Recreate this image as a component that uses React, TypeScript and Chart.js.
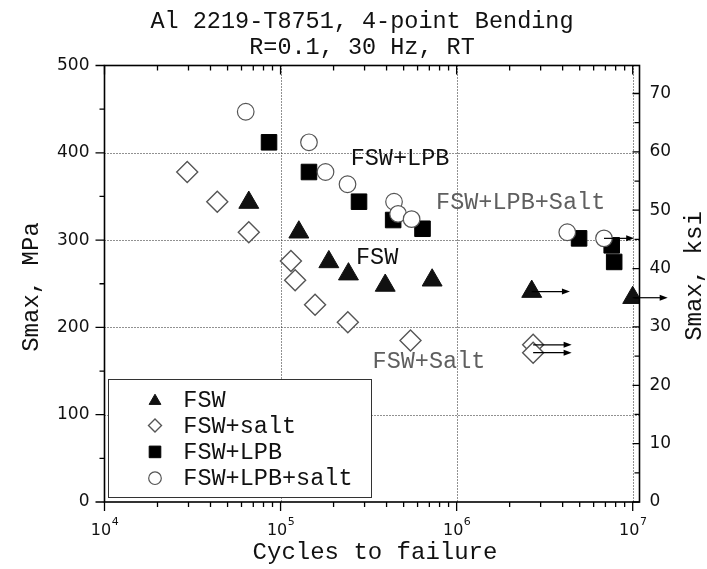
import React, { useEffect, useRef } from 'react';
import { Chart, registerables } from 'chart.js';
import { drawPoint } from 'chart.js/helpers';

Chart.register(...registerables);

// Fatigue results: cycles to failure vs. maximum stress (MPa)
const fswCycles = [66000, 127000, 188000, 243000, 393000, 726000, 2670000, 10000000];
const fswStress = [343, 309, 275, 261, 248, 254, 241, 234];

const fswSaltCycles = [29500, 43700, 66000, 114500, 121000, 157000, 241000, 547000, 2720000, 2720000];
const fswSaltStress = [378, 344, 309, 276, 254, 226, 206, 185, 180, 171];

const lpbCycles = [86000, 145000, 279000, 436000, 640000, 4960000, 7600000, 7850000];
const lpbStress = [412, 378, 344, 323, 313, 302, 294, 275];

const lpbSaltCycles = [63400, 145000, 180000, 240000, 441000, 465000, 555000, 4250000, 6870000];
const lpbSaltStress = [447, 412, 378, 364, 344, 330, 324, 309, 302];

// Run-outs: specimen cycles, arrow tip cycles, stress
const runoutStart = [2670000, 10000000, 2720000, 2720000, 6870000];
const runoutEnd = [4400000, 15800000, 4500000, 4500000, 10200000];
const runoutStress = [241, 234, 180, 171, 302];

const seriesNames = ['FSW', 'FSW+salt', 'FSW+LPB', 'FSW+LPB+salt'];
const titleLines = ['Al 2219-T8751, 4-point Bending', 'R=0.1, 30 Hz, RT'];
const xTitle = 'Cycles to failure';
const yTitle = 'Smax, MPa';
const y2Title = 'Smax, ksi';
const xDecades = [4, 5, 6, 7];
const gridDecades = [5, 6, 7];
const gridStress = [100, 200, 300, 400];

// In-plot group labels
const noteLabels = ['FSW+LPB', 'FSW+LPB+Salt', 'FSW', 'FSW+Salt'];
const noteCycles = [250000, 764000, 268000, 333000];
const noteStress = [386, 336, 273, 153];
const noteGrey = [false, true, false, true];

const MONO = '"Liberation Mono", "DejaVu Sans Mono", monospace';
const SANS = '"DejaVu Sans", "Liberation Sans", sans-serif';

const toPoints = (xs: number[], ys: number[]) => xs.map((x, i) => ({ x, y: ys[i] }));

const markerStyles = [
  { pointStyle: 'triangle', fill: '#111', stroke: '#111', width: 1, legendR: 6.8, dy: 1.7 },
  { pointStyle: 'rectRot', fill: '#fff', stroke: '#555', width: 1.4, legendR: 6.5, dy: 0 },
  { pointStyle: 'rect', fill: '#000', stroke: '#000', width: 1, legendR: 8.2, dy: 0 },
  { pointStyle: 'circle', fill: '#fff', stroke: '#555', width: 1.2, legendR: 6.3, dy: 0 },
];

const decorations = {
  id: 'decorations',
  beforeDatasetsDraw(chart: any) {
    const { ctx, chartArea: a, scales } = chart;
    const xs = scales.x;
    const ys = scales.y;
    ctx.save();
    ctx.strokeStyle = '#222';
    ctx.lineWidth = 1;
    ctx.setLineDash([1, 2]);
    ctx.beginPath();
    for (const e of gridDecades) {
      const px = Math.round(xs.getPixelForValue(10 ** e)) + 0.5;
      ctx.moveTo(px, a.top);
      ctx.lineTo(px, a.bottom);
    }
    for (const v of gridStress) {
      const py = Math.round(ys.getPixelForValue(v)) + 0.5;
      ctx.moveTo(a.left, py);
      ctx.lineTo(a.right, py);
    }
    ctx.stroke();
    ctx.restore();
  },
  afterDatasetsDraw(chart: any) {
    const { ctx, chartArea: a, scales } = chart;
    const xs = scales.x;
    const ys = scales.y;
    const y2 = scales.y2;
    ctx.save();

    // run-out arrows
    ctx.strokeStyle = '#000';
    ctx.fillStyle = '#000';
    ctx.lineWidth = 1.2;
    runoutStart.forEach((s, i) => {
      const x0 = xs.getPixelForValue(s);
      const x1 = xs.getPixelForValue(runoutEnd[i]);
      const py = ys.getPixelForValue(runoutStress[i]);
      ctx.beginPath();
      ctx.moveTo(x0, py);
      ctx.lineTo(x1 - 6, py);
      ctx.stroke();
      ctx.beginPath();
      ctx.moveTo(x1, py);
      ctx.lineTo(x1 - 8, py - 3);
      ctx.lineTo(x1 - 8, py + 3);
      ctx.closePath();
      ctx.fill();
    });

    // axis frame
    ctx.lineWidth = 1.6;
    ctx.strokeStyle = '#000';
    ctx.strokeRect(a.left, a.top, a.right - a.left, a.bottom - a.top);

    // tick marks
    ctx.lineWidth = 1.3;
    ctx.beginPath();
    for (let n = 4; n <= 7; n++) {
      for (let k = 1; k <= 9; k++) {
        const v = k * 10 ** n;
        if (v > xs.max) break;
        const px = xs.getPixelForValue(v);
        const len = k === 1 ? 9 : 5;
        ctx.moveTo(px, a.bottom);
        ctx.lineTo(px, a.bottom + len);
        ctx.moveTo(px, a.top);
        ctx.lineTo(px, a.top + len);
      }
    }
    for (let v = 0; v <= ys.max; v += 50) {
      const py = ys.getPixelForValue(v);
      const len = v % 100 === 0 ? 9 : 5;
      ctx.moveTo(a.left - len, py);
      ctx.lineTo(a.left, py);
    }
    for (let v = 0; v <= y2.max; v += 5) {
      const py = y2.getPixelForValue(v);
      const len = v % 10 === 0 ? 7 : 5;
      ctx.moveTo(a.right - len, py);
      ctx.lineTo(a.right, py);
    }
    ctx.stroke();

    // x tick labels: 10^n
    ctx.fillStyle = '#111';
    ctx.textBaseline = 'alphabetic';
    ctx.textAlign = 'left';
    for (const e of xDecades) {
      const px = xs.getPixelForValue(10 ** e);
      ctx.font = `16px ${SANS}`;
      const wBase = ctx.measureText('10').width;
      ctx.font = `11px ${SANS}`;
      const wExp = ctx.measureText(String(e)).width;
      const x0 = px - (wBase + wExp) / 2;
      ctx.font = `16px ${SANS}`;
      ctx.fillText('10', x0, 535);
      ctx.font = `11px ${SANS}`;
      ctx.fillText(String(e), x0 + wBase + 0.5, 525);
    }

    // group labels inside the plot
    ctx.font = `23.5px ${MONO}`;
    noteLabels.forEach((t, i) => {
      ctx.fillStyle = noteGrey[i] ? '#5f5f5f' : '#111';
      ctx.fillText(t, xs.getPixelForValue(noteCycles[i]), ys.getPixelForValue(noteStress[i]));
    });

    // legend
    const lx = 108.5, ly = 379.5, lw = 263, lh = 118;
    ctx.fillStyle = '#fff';
    ctx.fillRect(lx, ly, lw, lh);
    ctx.lineWidth = 1;
    ctx.strokeStyle = '#333';
    ctx.strokeRect(lx, ly, lw, lh);
    seriesNames.forEach((name, i) => {
      const st = markerStyles[i];
      const my = 399.3 + i * 26.3 + st.dy;
      ctx.fillStyle = st.fill;
      ctx.strokeStyle = st.stroke;
      ctx.lineWidth = st.width;
      drawPoint(ctx, { pointStyle: st.pointStyle, radius: st.legendR, rotation: 0, borderWidth: st.width } as any, 155, my);
      ctx.fillStyle = '#111';
      ctx.font = `23.5px ${MONO}`;
      ctx.fillText(name, 183.3, 406.7 + i * 26.1);
    });

    // chart title
    ctx.fillStyle = '#111';
    ctx.textAlign = 'center';
    ctx.font = `23.5px ${MONO}`;
    ctx.fillText(titleLines[0], 362, 28.3);
    ctx.fillText(titleLines[1], 362, 54);

    // axis titles
    ctx.font = `24px ${MONO}`;
    ctx.fillText(xTitle, 375, 559);
    ctx.save();
    ctx.translate(38, 287);
    ctx.rotate(-Math.PI / 2);
    ctx.fillText(yTitle, 0, 0);
    ctx.restore();
    ctx.save();
    ctx.translate(701, 276);
    ctx.rotate(-Math.PI / 2);
    ctx.fillText(y2Title, 0, 0);
    ctx.restore();

    ctx.restore();
  },
};

export default function App() {
  const ref = useRef<HTMLCanvasElement>(null);

  useEffect(() => {
    const hidden = { display: false, drawTicks: false };
    const chart = new Chart(ref.current as HTMLCanvasElement, {
      type: 'scatter',
      data: {
        datasets: [
          { label: seriesNames[0], data: toPoints(fswCycles, fswStress), order: 3 },
          { label: seriesNames[1], data: toPoints(fswSaltCycles, fswSaltStress), order: 2 },
          { label: seriesNames[2], data: toPoints(lpbCycles, lpbStress), order: 1 },
          { label: seriesNames[3], data: toPoints(lpbSaltCycles, lpbSaltStress), order: 0 },
        ].map((d, i) => ({
          ...d,
          pointStyle: markerStyles[i].pointStyle,
          pointRadius: [11.5, 10.5, 11, 8.3][i],
          pointBackgroundColor: markerStyles[i].fill,
          pointBorderColor: markerStyles[i].stroke,
          pointBorderWidth: markerStyles[i].width,
          showLine: false,
        })) as any,
      },
      options: {
        animation: false,
        responsive: false,
        devicePixelRatio: 1,
        events: [],
        layout: { padding: { top: 65.5, left: 0, right: 0, bottom: 0 }, autoPadding: false },
        plugins: { legend: { display: false }, tooltip: { enabled: false }, title: { display: false } },
        scales: {
          x: {
            type: 'logarithmic',
            position: 'bottom',
            min: 1e4,
            max: 1.093e7,
            ticks: { display: false },
            grid: hidden,
            border: { display: false },
            afterFit: (s: any) => { s.height = 67; },
          },
          y: {
            type: 'linear',
            position: 'left',
            min: 0,
            max: 500,
            ticks: { stepSize: 100, padding: 15, color: '#111', font: { family: SANS, size: 17 } },
            grid: hidden,
            border: { display: false },
            afterFit: (s: any) => { s.width = 104.5; },
          },
          y2: {
            type: 'linear',
            position: 'right',
            min: 0,
            max: 74.8,
            ticks: { stepSize: 10, padding: 10, includeBounds: false, color: '#111', font: { family: SANS, size: 17 } },
            grid: hidden,
            border: { display: false },
            afterFit: (s: any) => { s.width = 67.5; },
          },
        },
      } as any,
      plugins: [decorations],
    });
    return () => chart.destroy();
  }, []);

  return (
    <div style={{ position: 'fixed', left: 0, top: 0, width: 707, height: 569, background: '#fff' }}>
      <canvas ref={ref} width={707} height={569} style={{ display: 'block', width: 707, height: 569 }} />
    </div>
  );
}
